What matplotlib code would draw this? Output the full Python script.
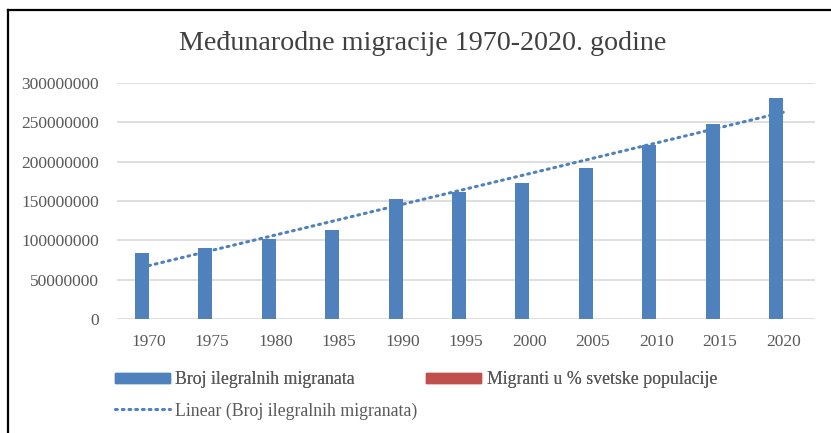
import numpy as np
import matplotlib
matplotlib.use("Agg")
import matplotlib.pyplot as plt
from matplotlib.patches import Patch
from matplotlib.lines import Line2D

# ---------- data ----------
years = ["1970", "1975", "1980", "1985", "1990", "1995", "2000", "2005", "2010", "2015", "2020"]
migrants = [84460125, 90368010, 101983149, 113206691, 152986157, 161289976,
            173230585, 191446828, 220983187, 247958644, 280598105]
# share of world population (%), too small to be visible on this axis
migrants_pct = [2.3, 2.2, 2.3, 2.3, 2.9, 2.8, 2.8, 2.9, 3.2, 3.4, 3.6]

title = "Međunarodne migracije 1970-2020. godine"
lbl_bar = "Broj ilegralnih migranata"
lbl_pct = "Migranti u % svetske populacije"
lbl_trend = "Linear (Broj ilegralnih migranata)"

BLUE = "#4f81bd"
RED = "#c0504d"
GREY = "#595959"

plt.rcParams['font.family'] = ['Liberation Serif', 'DejaVu Serif']

W, H = 831, 433
fig = plt.figure(figsize=(W/100, H/100), dpi=100)
ax = fig.add_axes([117/W, 1-319/H, (815-117)/W, (319-83)/H])

x = np.arange(len(years))
bw = 0.22
ax.bar(x - bw/2, migrants, width=bw, color=BLUE, zorder=3)
ax.bar(x + bw/2, migrants_pct, width=bw, color=RED, zorder=3)

# linear trend, same as Excel's trendline over category index
k, b = np.polyfit(x, migrants, 1)
ax.plot(x, k*x + b, color=BLUE, lw=2.2, linestyle=(0, (0.6, 1.6)),
        dash_capstyle='round', zorder=4)

ax.set_xlim(-0.5, len(years) - 0.5)
ax.set_ylim(0, 300000000)
ax.set_yticks(np.arange(0, 300000001, 50000000))
ax.set_yticklabels([str(v) for v in np.arange(0, 300000001, 50000000)])
ax.set_xticks(x)
ax.set_xticklabels(years)
ax.yaxis.grid(True, color="#d9d9d9", lw=1.2, zorder=0)
ax.set_axisbelow(True)
for s in ax.spines.values():
    s.set_visible(False)
ax.tick_params(axis='both', length=0, labelsize=12.5, colors=GREY)
ax.tick_params(axis='x', pad=11)
ax.tick_params(axis='y', pad=13)

fig.text(0.509, 1-44/H, title, ha='center', va='center', fontsize=20.2, color="#404040")

# legend rows
leg1 = fig.legend(handles=[Patch(color=BLUE, label=lbl_bar), Patch(color=RED, label=lbl_pct)],
                  loc='center left', bbox_to_anchor=(115/W, 1-380/H), ncol=2, frameon=False,
                  fontsize=12.8, handlelength=3.1, handleheight=0.45, handletextpad=0.3,
                  columnspacing=4.0, borderpad=0, borderaxespad=0, labelcolor=GREY)
fig.legend(handles=[Line2D([], [], color=BLUE, lw=2.2, linestyle=(0, (0.6, 1.6)),
                           dash_capstyle='round', label=lbl_trend)],
           loc='center left', bbox_to_anchor=(115/W, 1-411/H), frameon=False,
           fontsize=12.8, handlelength=3.1, handletextpad=0.3,
           borderpad=0, borderaxespad=0, labelcolor=GREY)
fig.add_artist(leg1)

# screenshot frame (left and top)
fig.add_artist(Line2D([8/W, 8/W], [0, 1-10/H], color='black', lw=1.6, transform=fig.transFigure))
fig.add_artist(Line2D([8/W, 1], [1-10/H, 1-10/H], color='black', lw=1.6, transform=fig.transFigure))

fig.savefig("out.png", dpi=100)
